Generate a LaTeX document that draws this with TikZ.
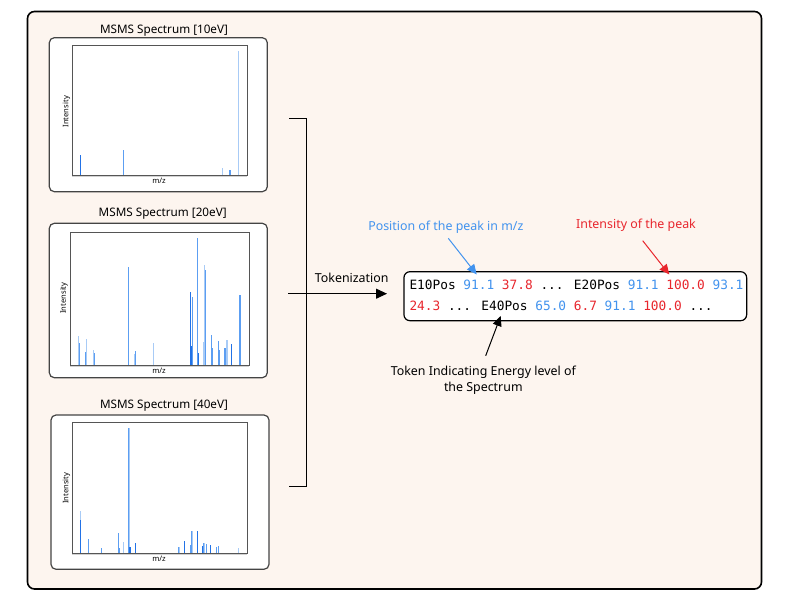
\documentclass[tikz,border=0pt]{standalone}
\usepackage{fontspec}
\setmainfont{Noto Sans}
\newfontfamily\monofont{DejaVu Sans Mono}
\usetikzlibrary{arrows.meta}
\definecolor{bgpeach}{HTML}{FDF5EF}
\definecolor{pdark}{HTML}{2272E6}
\definecolor{pmid}{HTML}{5C9EF2}
\definecolor{plight}{HTML}{A8CBF6}
\definecolor{tblue}{HTML}{4293EE}
\definecolor{tred}{HTML}{E8262D}
\definecolor{axgray}{HTML}{555555}
\definecolor{boxgray}{HTML}{444444}
\newcommand{\pbase}{0}
\newcommand{\pkl}[3]{\draw[#3,line width=1.25pt] (#1,\pbase) -- (#1,#2);}
\tikzset{
  outerframe/.style={draw=black,line width=1.6pt,rounded corners=7pt,fill=bgpeach},
  specbox/.style={draw=boxgray,line width=1.2pt,rounded corners=5pt,fill=white},
  axframe/.style={draw=axgray,line width=0.9pt},
  ttl/.style={font=\fontsize{11.7}{14}\selectfont,inner sep=0pt},
  axlbl/.style={font=\fontsize{7.6}{9}\selectfont,inner sep=0pt},
  lbl/.style={font=\fontsize{12.4}{14}\selectfont,inner sep=0pt},
  tokbox/.style={draw=black,line width=1.2pt,rounded corners=6pt,fill=white,minimum width=342.7pt,minimum height=49pt,inner sep=0pt},
  tokline/.style={font=\monofont\fontsize{12.8}{15}\selectfont,inner sep=0pt,anchor=base west},
  conn/.style={line width=1pt},
  bigtip/.style={-{Triangle[length=11pt,width=10pt]}},
}
\begin{document}
\begin{tikzpicture}[x=1pt,y=-1pt]
\useasboundingbox (0,0) rectangle (789,601);
\node[outerframe,minimum width=734pt,minimum height=577.5pt,inner sep=0pt] (frame) at (394.5,300.25) {};

% spectrum boxes
\node[specbox,minimum width=218pt,minimum height=154pt,inner sep=0pt] (b1) at (158.3,114.7) {};
\node[specbox,minimum width=218pt,minimum height=154.4pt,inner sep=0pt] (b2) at (158.3,300.5) {};
\node[specbox,minimum width=218pt,minimum height=154.3pt,inner sep=0pt] (b3) at (160,492.15) {};

\node[ttl] (t1) at (164,30.7) {MSMS Spectrum [10eV]};
\node[ttl] (t2) at (162.7,213.3) {MSMS Spectrum [20eV]};
\node[ttl] (t3) at (164,405.7) {MSMS Spectrum [40eV]};

% spectrum 1 peaks
\begin{scope}[shift={(40,15)},scale=1/3]
\renewcommand{\pbase}{482}
\pkl{121}{421}{pdark}
\pkl{250}{405}{pmid}
\pkl{548}{460}{plight}
\pkl{570}{465}{pmid}
\pkl{596}{107}{plight}
\end{scope}
% spectrum 2 peaks
\begin{scope}[shift={(40,195)},scale=1/3]
\renewcommand{\pbase}{510}
\pkl{115}{423}{plight}
\pkl{118}{444}{pmid}
\pkl{137}{472}{pmid}
\pkl{139}{432}{plight}
\pkl{160}{465}{plight}
\pkl{163}{475}{pmid}
\pkl{265}{215}{pmid}
\pkl{284}{477}{plight}
\pkl{287}{467}{pmid}
\pkl{341}{444}{plight}
\pkl{451}{292}{pdark}
\pkl{457}{306}{pmid}
\pkl{453}{453}{pdark}
\pkl{473}{130}{pmid}
\pkl{476}{473}{pdark}
\pkl{491}{440}{plight}
\pkl{493}{210}{plight}
\pkl{497}{224}{pmid}
\pkl{514}{420}{pmid}
\pkl{517}{458}{pmid}
\pkl{535}{437}{pmid}
\pkl{538}{465}{pmid}
\pkl{553}{458}{pdark}
\pkl{555}{460}{pmid}
\pkl{559}{434}{plight}
\pkl{562}{434}{plight}
\pkl{575}{447}{pdark}
\pkl{600}{300}{pmid}
\end{scope}
% spectrum 3 peaks
\begin{scope}[shift={(40,390)},scale=1/3]
\renewcommand{\pbase}{489}
\pkl{121}{363}{plight}
\pkl{122}{390}{pdark}
\pkl{146}{447}{pmid}
\pkl{184}{475}{pmid}
\pkl{235}{430}{pmid}
\pkl{237}{475}{pmid}
\pkl{250}{456}{plight}
\pkl{265}{115}{pmid}
\pkl{268}{115}{plight}
\pkl{270}{470}{pdark}
\pkl{287}{458}{pdark}
\pkl{416}{470}{pmid}
\pkl{418}{472}{plight}
\pkl{433}{454}{pdark}
\pkl{452}{465}{pmid}
\pkl{455}{424}{pmid}
\pkl{458}{424}{plight}
\pkl{472}{422}{pdark}
\pkl{488}{468}{pdark}
\pkl{491}{460}{pmid}
\pkl{494}{460}{plight}
\pkl{499}{462}{pmid}
\pkl{512}{465}{pdark}
\pkl{530}{470}{pmid}
\pkl{535}{468}{pmid}
\pkl{596}{474}{plight}
\end{scope}

% axes frames
\draw[axframe] (72.3,45.3) rectangle (247.3,175.7);
\draw[gray!35,line width=0.9pt] (72.3,176.7) -- (247.3,176.7);
\draw[axframe] (70.3,232.3) rectangle (249,365);
\draw[gray!35,line width=0.9pt] (70.3,366) -- (249,366);
\draw[axframe] (72.3,422.3) rectangle (247.3,553);
\draw[gray!35,line width=0.9pt] (72.3,554) -- (247.3,554);

\node[axlbl,rotate=90] (i1) at (66.5,111.7) {Intensity};
\node[axlbl,rotate=90] (i2) at (64.1,298) {Intensity};
\node[axlbl,rotate=90] (i3) at (66.5,488.3) {Intensity};
\node[axlbl] (m1) at (159,181.1) {m/z};
\node[axlbl] (m2) at (159,370.4) {m/z};
\node[axlbl] (m3) at (159,558.7) {m/z};

% bracket and arrow
\coordinate (brt) at (289,118.6);
\coordinate (brb) at (289,486.5);
\coordinate (brm) at (288,293.7);
\coordinate (tokin) at (387,293.7);
\draw[conn] (brt) -| (306.7,486.5) -- (brb);
\draw[conn,bigtip] (brm) -- (tokin);
\node[lbl] (tokz) at (351.7,277.7) {Tokenization};

% token box
\node[tokbox] (tok) at (575.3,296.2) {};
\node[tokline] (l1) at (409.3,290) {E10Pos \textcolor{tblue}{91.1} \textcolor{tred}{37.8} ... E20Pos \textcolor{tblue}{91.1} \textcolor{tred}{100.0} \textcolor{tblue}{93.1}};
\node[tokline] (l2) at (409.3,310.7) {\textcolor{tred}{24.3} ... E40Pos \textcolor{tblue}{65.0} \textcolor{tred}{6.7} \textcolor{tblue}{91.1} \textcolor{tred}{100.0} ...};

% annotations
\node[lbl,text=tblue] (pos) at (445.8,227.3) {Position of the peak in m/z};
\node[lbl,text=tred] (int) at (636,225) {Intensity of the peak};
\node[lbl,align=center,font=\fontsize{12.4}{15.6}\selectfont] (ener) at (483.3,380.5) {Token Indicating Energy level of\\the Spectrum};
\coordinate (posS) at (448.3,238.3);
\coordinate (posE) at (476.7,274.5);
\coordinate (intS) at (642.7,240.7);
\coordinate (intE) at (669.3,274.5);
\coordinate (enS) at (485.7,355.7);
\coordinate (enE) at (500.7,316);
\draw[conn,draw=tblue,-{Triangle[length=10pt,width=9pt]},tblue] (posS) -- (posE);
\draw[conn,draw=tred,-{Triangle[length=10pt,width=9pt]},tred] (intS) -- (intE);
\draw[conn,-{Triangle[length=10pt,width=9pt]}] (enS) -- (enE);
\end{tikzpicture}
\end{document}
